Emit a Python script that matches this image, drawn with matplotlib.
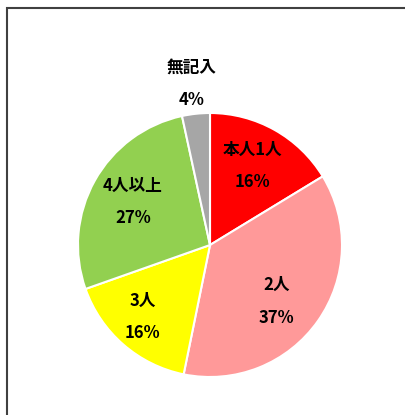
import numpy as np
import matplotlib
matplotlib.use("Agg")
import matplotlib.pyplot as plt
from matplotlib.patches import Rectangle

plt.rcParams['font.family'] = ['Noto Sans CJK JP', 'DejaVu Sans']

# data (clockwise from 12 o'clock)
categories = ["本人1人", "2人", "3人", "4人以上", "無記入"]
shares = [16.3, 36.9, 16.4, 27.0, 3.4]
pct_labels = ["16%", "37%", "16%", "27%", "4%"]
colors = ["#FF0000", "#FF9999", "#FFFF00", "#92D050", "#A6A6A6"]

# label placement: distance (fraction of radius) and angle tweak (deg)
label_dist = [0.68, 0.66, 0.745, 0.67, 1.23]
label_turn = [1.0, -5.5, -2.0, 0.0, 0.5]

fig = plt.figure(figsize=(4.05, 4.15), dpi=100)
ax = fig.add_axes([0, 0, 1, 1])

cx, cy, r = 210, 170, 132
wedges, _ = ax.pie(shares, colors=colors, startangle=90, counterclock=False,
                   center=(cx, cy), radius=r,
                   wedgeprops=dict(edgecolor='white', linewidth=1.5))

# pie() resets the limits, so set them afterwards
ax.set_xlim(0, 405)
ax.set_ylim(0, 415)
ax.set_aspect('equal')
ax.axis('off')

# chart frame (only left and top edges visible in the crop)
ax.add_patch(Rectangle((7, -20), 420, 427, fill=False, edgecolor='#404040', linewidth=1.5))

for w, cat, pct, d, t in zip(wedges, categories, pct_labels, label_dist, label_turn):
    mid = np.deg2rad((w.theta1 + w.theta2) / 2 + t)
    x = cx + d * r * np.cos(mid)
    y = cy + d * r * np.sin(mid)
    ax.text(x, y, cat + "\n" + pct, ha='center', va='center', fontsize=12,
            fontweight='bold', linespacing=2.05, color='black')

fig.savefig("out.png", dpi=100)
